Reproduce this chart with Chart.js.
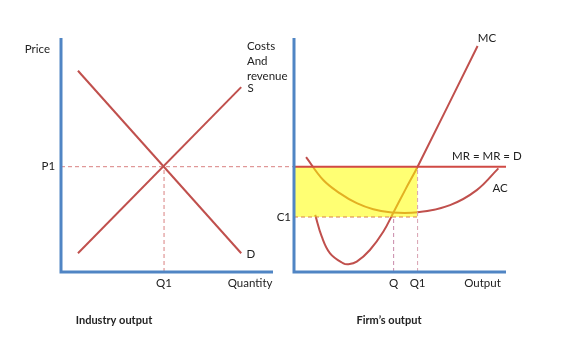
<!DOCTYPE html>
<html><head><meta charset="utf-8">
<script src="https://cdn.jsdelivr.net/npm/chart.js@4.4.1/dist/chart.umd.min.js"></script>
<style>
html,body{margin:0;padding:0;background:#fff;}
#wrap{position:relative;width:574px;height:352px;}
canvas{position:absolute;left:0;top:0;}
</style></head><body>
<div id="wrap"><canvas id="left" width="574" height="352"></canvas><canvas id="right" width="574" height="352"></canvas></div>
<script>
// ---- Industry panel (quantity vs price) ----
const demandQ = [0.8, 8.5];
const demandP = [8.6, 0.8];
const supplyQ = [0.8, 8.5];
const supplyP = [0.8, 7.9];
const P1 = 4.5;
const Q1_industry = 4.86;
const leftTexts = ['Price', 'P1', 'Q1', 'Quantity', 'S', 'D', 'Industry output'];

// ---- Firm panel (output vs costs and revenue) ----
const mcQ = [1.0, 1.31, 1.70, 2.33, 2.56, 2.96, 3.58, 4.21, 4.69, 5.24, 5.83, 8.66];
const mcC = [2.44, 1.51, 0.80, 0.37, 0.33, 0.44, 0.94, 1.72, 2.54, 3.50, 4.50, 9.66];
const acQ = [0.57, 1.38, 2.17, 2.96, 3.74, 4.61, 5.83, 7.36, 8.62, 9.64];
const acC = [4.91, 3.93, 3.36, 2.94, 2.68, 2.54, 2.55, 2.86, 3.50, 4.43];
const MR = 4.5;
const C1 = 2.35;
const Q_firm = 4.7;
const Q1_firm = 5.83;
const rightTexts = ['Costs', 'And', 'revenue', 'C1', 'Q', 'Q1', 'Output', 'MC', 'MR = MR = D', 'AC', 'Firm\u2019s output'];

const AXIS_MAX = 10;
const RED = '#C0504D';
const BLUE = '#5085C4';
const FONT = 'Lato, "Open Sans", sans-serif';
const LABEL_SIZE = 11.5;

const pts = (xs, ys) => xs.map((x, i) => ({x, y: ys[i]}));

const textPlugin = {
  id: 'texts',
  afterDatasetsDraw(chart, args, opts) {
    const {ctx, scales: {x, y}} = chart;
    ctx.save();
    opts.items.forEach(it => {
      ctx.font = (it.bold ? 'bold ' : '') + (it.size || LABEL_SIZE) + 'px ' + FONT;
      ctx.fillStyle = it.color || '#222';
      ctx.textAlign = it.align || 'center';
      ctx.textBaseline = 'middle';
      ctx.fillText(it.text, x.getPixelForValue(it.x), y.getPixelForValue(it.y));
    });
    ctx.restore();
  }
};

function line(data, color, width, extra) {
  return Object.assign({data, borderColor: color, borderWidth: width, pointRadius: 0,
    showLine: true, fill: false, clip: false, tension: 0}, extra || {});
}

function baseOptions(padding, items) {
  return {
    responsive: false, animation: false, devicePixelRatio: 1,
    layout: {padding},
    scales: {
      x: {type: 'linear', min: 0, max: AXIS_MAX, display: false},
      y: {type: 'linear', min: 0, max: AXIS_MAX, display: false}
    },
    plugins: {legend: {display: false}, tooltip: {enabled: false}, texts: {items}}
  };
}

const axisLine = () => line([{x: 0, y: AXIS_MAX}, {x: 0, y: 0}, {x: AXIS_MAX, y: 0}], BLUE, 3, {order: -5, borderJoinStyle: 'miter'});

// Left chart
new Chart(document.getElementById('left'), {
  type: 'scatter',
  data: {datasets: [
    line([{x: 0, y: P1}, {x: 11, y: P1}], '#D98080', 1, {borderDash: [4, 3], order: 3}),
    line([{x: Q1_industry, y: 0}, {x: Q1_industry, y: P1}], '#D98080', 1, {borderDash: [4, 3], order: 3}),
    line(pts(demandQ, demandP), RED, 2, {order: 2}),
    line(pts(supplyQ, supplyP), RED, 2, {order: 2}),
    axisLine()
  ]},
  options: baseOptions({left: 61, top: 38, right: 301, bottom: 80}, [
    {text: leftTexts[0], x: -0.52, y: 9.53, align: 'right'},
    {text: leftTexts[1], x: -0.28, y: P1, align: 'right'},
    {text: leftTexts[2], x: Q1_industry, y: -0.47},
    {text: leftTexts[3], x: 8.92, y: -0.47},
    {text: leftTexts[4], x: 8.8, y: 7.86, align: 'left'},
    {text: leftTexts[5], x: 8.75, y: 0.77, align: 'left'},
    {text: leftTexts[6], x: 2.5, y: -2.09, bold: true, size: 11}
  ]),
  plugins: [textPlugin]
});

// Right chart
new Chart(document.getElementById('right'), {
  type: 'scatter',
  data: {datasets: [
    line(pts(mcQ, mcC), RED, 2, {order: 2, tension: 0.4}),
    line(pts(acQ, acC), RED, 2, {order: 2, tension: 0.4}),
    line([{x: 0, y: MR}, {x: Q1_firm, y: MR}], 'rgba(0,0,0,0)', 0,
      {order: 1, fill: {value: C1}, backgroundColor: 'rgba(255,255,0,0.55)'}),
    line([{x: 0, y: C1}, {x: Q1_firm, y: C1}], '#D8804A', 1, {borderDash: [4, 3], order: 0}),
    line([{x: Q_firm, y: 0}, {x: Q_firm, y: C1}], '#C888A8', 1, {borderDash: [4, 3], order: 0}),
    line([{x: Q1_firm, y: 0}, {x: Q1_firm, y: MR}], '#D8A0B0', 1, {borderDash: [4, 3], order: 0}),
    line([{x: 0, y: MR}, {x: AXIS_MAX, y: MR}], '#D04A45', 2, {order: -1}),
    axisLine()
  ]},
  options: baseOptions({left: 294, top: 38, right: 68, bottom: 80}, [
    {text: rightTexts[0], x: -2.22, y: 9.66, align: 'left'},
    {text: rightTexts[1], x: -2.22, y: 9.02, align: 'left'},
    {text: rightTexts[2], x: -2.22, y: 8.38, align: 'left'},
    {text: rightTexts[3], x: -0.14, y: C1, align: 'right'},
    {text: rightTexts[4], x: Q_firm, y: -0.47},
    {text: rightTexts[5], x: Q1_firm, y: -0.47},
    {text: rightTexts[6], x: 8.89, y: -0.47},
    {text: rightTexts[7], x: 9.1, y: 10.0},
    {text: rightTexts[8], x: 9.1, y: 4.96},
    {text: rightTexts[9], x: 9.72, y: 3.59},
    {text: rightTexts[10], x: 4.48, y: -2.09, bold: true, size: 11}
  ]),
  plugins: [textPlugin]
});
</script>
</body></html>
